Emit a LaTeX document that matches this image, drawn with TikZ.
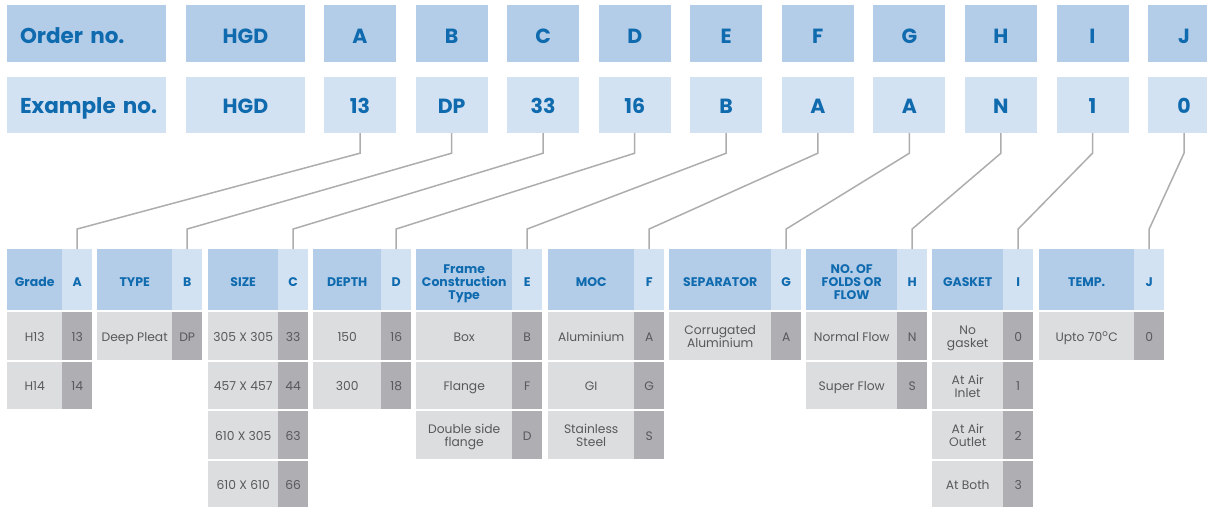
\documentclass[tikz,border=0pt]{standalone}
\usepackage{fontspec}
\setmainfont{Poppins}
\definecolor{hdblue}{HTML}{B3CDE9}
\definecolor{ltblue}{HTML}{D3E2F3}
\definecolor{txblue}{HTML}{0F6AAE}
\definecolor{ltgrey}{HTML}{DCDDDF}
\definecolor{dkgrey}{HTML}{AFAEB2}
\definecolor{txgrey}{HTML}{58595B}
\definecolor{linegrey}{HTML}{ADADAD}

\begin{document}
\begin{tikzpicture}[x=1pt,y=-1pt]
\tikzstyle{order}=[fill=hdblue, text=txblue, inner sep=0pt, minimum width=72pt, minimum height=57pt, text height=20.4pt, text depth=0pt, font=\bfseries\fontsize{20.5}{22}\selectfont]
\tikzstyle{example}=[order, fill=ltblue, minimum height=56pt, text height=17.4pt]
\tikzstyle{title}=[minimum width=159pt, text width=146pt, align=left, execute at begin node=\hspace*{6.5pt}, font=\bfseries\fontsize{21.5}{23}\selectfont]
\tikzstyle{head}=[fill=hdblue, text=txblue, anchor=north west, inner sep=0pt, minimum height=61pt, text height=13.75pt, text depth=0pt, align=center, font=\bfseries\fontsize{12.5}{13.3}\selectfont]
\tikzstyle{key}=[head, fill=ltblue, minimum width=30pt]
\tikzstyle{cell}=[fill=ltgrey, text=txgrey, anchor=north west, inner sep=0pt, minimum height=47.5pt, text height=10.6pt, text depth=0pt, align=center, font=\fontsize{12.3}{13.3}\selectfont]
\tikzstyle{code}=[cell, fill=dkgrey, minimum width=30pt]
\tikzstyle{link}=[draw=linegrey, line width=1.5pt]
\useasboundingbox (0,0) rectangle (1207,506);

% order / example rows
\node[order, title] (oNo) at (86.5,33.5) {Order no.};
\node[example, title] (xNo) at (86.5,105) {Example no.};
\node[order, minimum width=119pt] (oHGD) at (245.5,33.5) {HGD};
\node[example, minimum width=119pt] (xHGD) at (245.5,105) {HGD};
\node[order] (oA) at (360,33.5) {A};    \node[example] (xA) at (360,105) {13};
\node[order] (oB) at (451.6,33.5) {B};  \node[example] (xB) at (451.6,105) {DP};
\node[order] (oC) at (543.1,33.5) {C};  \node[example] (xC) at (543.1,105) {33};
\node[order] (oD) at (634.7,33.5) {D};  \node[example] (xD) at (634.7,105) {16};
\node[order] (oE) at (726.2,33.5) {E};  \node[example] (xE) at (726.2,105) {B};
\node[order] (oF) at (817.8,33.5) {F};  \node[example] (xF) at (817.8,105) {A};
\node[order] (oG) at (909.4,33.5) {G};  \node[example] (xG) at (909.4,105) {A};
\node[order] (oH) at (1000.9,33.5) {H}; \node[example] (xH) at (1000.9,105) {N};
\node[order] (oI) at (1092.5,33.5) {I}; \node[example] (xI) at (1092.5,105) {1};
\node[order] (oJ) at (1184,33.5) {J};   \node[example] (xJ) at (1184,105) {0};

% A
\node[head, minimum width=55pt] (hA) at (7,249) {Grade}; \node[key] (kA) at (62,249) {A};
\node[cell, minimum width=55pt] (A1) at (7,312) {H13};   \node[code] (A1c) at (62,312) {13};
\node[cell, minimum width=55pt] (A2) at (7,361.5) {H14}; \node[code] (A2c) at (62,361.5) {14};
% B
\node[head, minimum width=75pt] (hB) at (97,249) {TYPE}; \node[key] (kB) at (172,249) {B};
\node[cell, minimum width=75pt] (B1) at (97,312) {Deep Pleat}; \node[code] (B1c) at (172,312) {DP};
% C
\node[head, minimum width=70pt] (hC) at (208,249) {SIZE}; \node[key] (kC) at (278,249) {C};
\node[cell, minimum width=70pt] (C1) at (208,312) {305 X 305};   \node[code] (C1c) at (278,312) {33};
\node[cell, minimum width=70pt] (C2) at (208,361.5) {457 X 457}; \node[code] (C2c) at (278,361.5) {44};
\node[cell, minimum width=70pt] (C3) at (208,411) {610 X 305};   \node[code] (C3c) at (278,411) {63};
\node[cell, minimum width=70pt] (C4) at (208,460.5) {610 X 610}; \node[code] (C4c) at (278,460.5) {66};
% D
\node[head, minimum width=68pt] (hD) at (313,249) {DEPTH}; \node[key] (kD) at (381,249) {D};
\node[cell, minimum width=68pt] (D1) at (313,312) {150};   \node[code] (D1c) at (381,312) {16};
\node[cell, minimum width=68pt] (D2) at (313,361.5) {300}; \node[code] (D2c) at (381,361.5) {18};
% E
\node[head, minimum width=96pt, text height=40.35pt] (hE) at (416,249) {Frame\\Construction\\Type}; \node[key] (kE) at (512,249) {E};
\node[cell, minimum width=96pt] (E1) at (416,312) {Box};    \node[code] (E1c) at (512,312) {B};
\node[cell, minimum width=96pt] (E2) at (416,361.5) {Flange}; \node[code] (E2c) at (512,361.5) {F};
\node[cell, minimum width=96pt, text height=23.9pt] (E3) at (416,411) {Double side\\flange}; \node[code] (E3c) at (512,411) {D};
% F
\node[head, minimum width=86pt] (hF) at (548,249) {MOC}; \node[key] (kF) at (634,249) {F};
\node[cell, minimum width=86pt] (F1) at (548,312) {Aluminium}; \node[code] (F1c) at (634,312) {A};
\node[cell, minimum width=86pt] (F2) at (548,361.5) {GI};      \node[code] (F2c) at (634,361.5) {G};
\node[cell, minimum width=86pt, text height=23.9pt] (F3) at (548,411) {Stainless\\Steel}; \node[code] (F3c) at (634,411) {S};
% G
\node[head, minimum width=102pt] (hG) at (669,249) {SEPARATOR}; \node[key] (kG) at (771,249) {G};
\node[cell, minimum width=102pt, text height=23.9pt] (G1) at (669,312) {Corrugated\\Aluminium}; \node[code] (G1c) at (771,312) {A};
% H
\node[head, minimum width=91pt, text height=40.35pt] (hH) at (806,249) {NO. OF\\FOLDS OR\\FLOW}; \node[key] (kH) at (897,249) {H};
\node[cell, minimum width=91pt] (H1) at (806,312) {Normal Flow};  \node[code] (H1c) at (897,312) {N};
\node[cell, minimum width=91pt] (H2) at (806,361.5) {Super Flow}; \node[code] (H2c) at (897,361.5) {S};
% I
\node[head, minimum width=71pt] (hI) at (932,249) {GASKET}; \node[key] (kI) at (1003,249) {I};
\node[cell, minimum width=71pt, text height=23.9pt] (I1) at (932,312) {No\\gasket};       \node[code] (I1c) at (1003,312) {0};
\node[cell, minimum width=71pt, text height=23.9pt] (I2) at (932,361.5) {At Air\\Inlet};  \node[code] (I2c) at (1003,361.5) {1};
\node[cell, minimum width=71pt, text height=23.9pt] (I3) at (932,411) {At Air\\Outlet};   \node[code] (I3c) at (1003,411) {2};
\node[cell, minimum width=71pt] (I4) at (932,460.5) {At Both};        \node[code] (I4c) at (1003,460.5) {3};
% J
\node[head, minimum width=95pt] (hJ) at (1039,249) {TEMP.}; \node[key] (kJ) at (1134,249) {J};
\node[cell, minimum width=95pt] (J1) at (1039,312) {Upto 70\textsuperscript{o}C}; \node[code] (J1c) at (1134,312) {0};

% connectors
\draw[link] (xA.south) -- ++(0,20) -- ([yshift=20pt]kA.north) -- (kA.north);
\draw[link] (xB.south) -- ++(0,20) -- ([yshift=20pt]kB.north) -- (kB.north);
\draw[link] (xC.south) -- ++(0,20) -- ([yshift=20pt]kC.north) -- (kC.north);
\draw[link] (xD.south) -- ++(0,20) -- ([yshift=20pt]kD.north) -- (kD.north);
\draw[link] (xE.south) -- ++(0,20) -- ([yshift=20pt]kE.north) -- (kE.north);
\draw[link] (xF.south) -- ++(0,20) -- ([yshift=20pt]kF.north) -- (kF.north);
\draw[link] (xG.south) -- ++(0,20) -- ([yshift=20pt]kG.north) -- (kG.north);
\draw[link] (xH.south) -- ++(0,20) -- ([yshift=20pt]kH.north) -- (kH.north);
\draw[link] (xI.south) -- ++(0,20) -- ([yshift=20pt]kI.north) -- (kI.north);
\draw[link] (xJ.south) -- ++(0,20) -- ([yshift=20pt]kJ.north) -- (kJ.north);
\end{tikzpicture}
\end{document}
